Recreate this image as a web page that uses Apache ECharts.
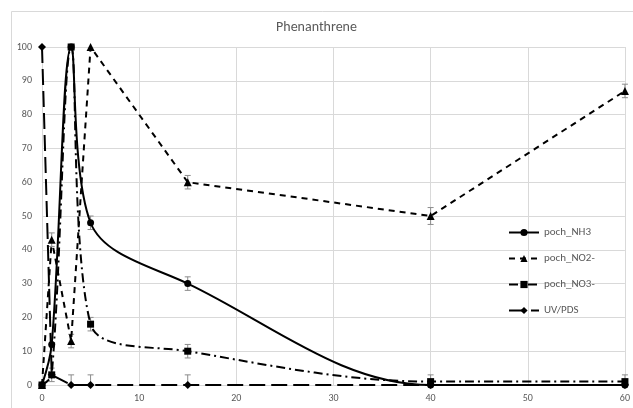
<!DOCTYPE html>
<html><head><meta charset="utf-8">
<script src="https://cdn.jsdelivr.net/npm/echarts@6/dist/echarts.min.js"></script>
<style>html,body{margin:0;padding:0;background:#fff}#c{width:633px;height:408px}</style>
</head><body><div id="c"></div>
<script>
var xs = [0, 1, 3, 5, 15, 40, 60];
var nh3 = [0, 12, 100, 48, 30, 0, 0];
var no2 = [0, 43, 13, 100, 60, 50, 87];
var no3 = [0, 3, 100, 18, 10, 1, 1];
var uv = [100, 3, 0, 0, 0, 0, 0];
var nh3Err = [0, 0, 0, 2, 2, 0, 0];
var no2Err = [0, 2, 2, 0, 2, 2.5, 2];
var no3Err = [0, 2, 0, 2, 2, 2, 2];
var uvErr = [0, 0, 3, 3, 3, 0, 0];
var names = ['poch_NH3', 'poch_NO2-', 'poch_NO3-', 'UV/PDS'];

function pairs(ys){ return xs.map(function(x,i){ return [x, ys[i]]; }); }
function errData(ys, es){
  var out = [];
  xs.forEach(function(x,i){ if (es[i] > 0) out.push([x, ys[i], es[i]]); });
  return out;
}
function errSeries(ys, es){
  return {
    type: 'custom', silent: true, z: 1,
    data: errData(ys, es),
    renderItem: function(params, api){
      var x = api.value(0), y = api.value(1), e = api.value(2);
      var lo = api.coord([x, Math.max(0, y - e)]);
      var hi = api.coord([x, Math.min(100, y + e)]);
      var w = 3;
      var st = {stroke: '#8c8c8c', lineWidth: 1};
      return {type: 'group', children: [
        {type: 'line', shape: {x1: lo[0], y1: lo[1], x2: hi[0], y2: hi[1]}, style: st},
        {type: 'line', shape: {x1: lo[0]-w, y1: lo[1], x2: lo[0]+w, y2: lo[1]}, style: st},
        {type: 'line', shape: {x1: hi[0]-w, y1: hi[1], x2: hi[0]+w, y2: hi[1]}, style: st}
      ]};
    }
  };
}

var chart = echarts.init(document.getElementById('c'), null, {renderer: 'canvas'});
var font = 'Calibri, Carlito, "Open Sans", sans-serif';
chart.setOption({
  animation: false,
  backgroundColor: '#fff',
  graphic: [{type: 'rect', left: 9, top: 9, z: -10, silent: true,
    shape: {width: 640, height: 420},
    style: {fill: 'none', stroke: '#d9d9d9', lineWidth: 1}}],
  title: {text: 'Phenanthrene', left: 'center', top: 15,
    textStyle: {fontFamily: font, fontSize: 14, fontWeight: 'normal', color: '#595959'}},
  grid: {left: 42, right: 6, top: 47, bottom: 23, containLabel: false},
  legend: {
    orient: 'vertical', left: 503, top: 222, itemGap: 15,
    itemWidth: 30, itemHeight: 9,
    data: names,
    textStyle: {fontFamily: font, fontSize: 11, color: '#595959'}
  },
  xAxis: {type: 'value', min: 0, max: 60, interval: 10,
    axisLine: {show: true, lineStyle: {color: '#d9d9d9'}},
    axisTick: {show: false},
    axisLabel: {fontFamily: font, fontSize: 10, color: '#595959', margin: 8},
    splitLine: {show: true, lineStyle: {color: '#d9d9d9', width: 1}}},
  yAxis: {type: 'value', min: 0, max: 100, interval: 10,
    axisLine: {show: false}, axisTick: {show: false},
    axisLabel: {fontFamily: font, fontSize: 10, color: '#595959', margin: 10},
    splitLine: {show: true, lineStyle: {color: '#d9d9d9', width: 1}}},
  series: [
    {name: names[0], type: 'line', data: pairs(nh3), smooth: 0.35, z: 3,
      symbol: 'circle', symbolSize: 7,
      lineStyle: {color: '#000', width: 2, type: 'solid'},
      itemStyle: {color: '#000'}},
    {name: names[1], type: 'line', data: pairs(no2), smooth: false, z: 3,
      symbol: 'triangle', symbolSize: 8,
      lineStyle: {color: '#000', width: 2, type: [6, 5]},
      itemStyle: {color: '#000'}},
    {name: names[2], type: 'line', data: pairs(no3), smooth: 0.35, z: 3,
      symbol: 'rect', symbolSize: 7,
      lineStyle: {color: '#000', width: 2, type: [9, 4, 2, 4]},
      itemStyle: {color: '#000'}},
    {name: names[3], type: 'line', data: pairs(uv), smooth: false, z: 3,
      symbol: 'diamond', symbolSize: 8,
      lineStyle: {color: '#000', width: 2, type: [16, 6]},
      itemStyle: {color: '#000'}},
    errSeries(nh3, nh3Err),
    errSeries(no2, no2Err),
    errSeries(no3, no3Err),
    errSeries(uv, uvErr)
  ]
});
</script>
</body></html>
